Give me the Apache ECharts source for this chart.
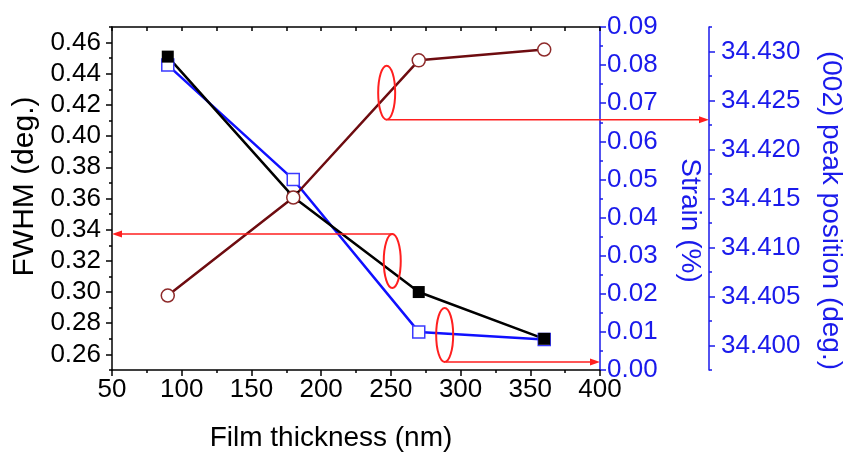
<!DOCTYPE html>
<html>
<head>
<meta charset="utf-8">
<script src="https://cdn.jsdelivr.net/npm/echarts@6/dist/echarts.min.js"></script>
<style>
  html, body { margin: 0; background: #fff; }
  #chart { width: 848px; height: 453px; }
</style>
</head>
<body>
<div id="chart"></div>
<script>
// film thickness (nm)
const thickness = [90, 180, 270, 360];
// FWHM (deg.) - left axis
const fwhm = [0.451, 0.361, 0.300, 0.270];
// strain (%) - first right axis
const strain = [0.080, 0.050, 0.010, 0.008];
// (002) peak position (deg.) - second right axis
const peakPos = [34.4051, 34.4151, 34.4291, 34.4302];

const fwhmTicks = [0.26, 0.28, 0.30, 0.32, 0.34, 0.36, 0.38, 0.40, 0.42, 0.44, 0.46];
const fwhmMinor = [0.25, 0.27, 0.29, 0.31, 0.33, 0.35, 0.37, 0.39, 0.41, 0.43, 0.45, 0.47];
const peakTicks = [34.400, 34.405, 34.410, 34.415, 34.420, 34.425, 34.430];
const peakMinor = [34.3975, 34.4025, 34.4075, 34.4125, 34.4175, 34.4225, 34.4275, 34.4325];

// red guide marks: ellipse centre in data units of the given y axis
const notes = [
  { axis: 3, x: 247, y: 34.4258, from: 'bottom', to: 'peak' },
  { axis: 0, x: 251, y: 0.3199, from: 'top', to: 'left' },
  { axis: 2, x: 288.6, y: 0.0092, from: 'bottom', to: 'right' }
];

const FONT = "'Liberation Sans', Arial, sans-serif";
const BLUE = '#1a1aeb';
const RED = '#ff1f1f';

const chart = echarts.init(document.getElementById('chart'));

const option = {
  animation: false,
  grid: { left: 112, right: 248, top: 27, bottom: 83, outerBoundsMode: 'none', containLabel: false },
  xAxis: [
    {
      type: 'value', position: 'bottom', min: 50, max: 400, interval: 50,
      axisLine: { lineStyle: { color: '#000', width: 1.5 } },
      axisTick: { length: 6, lineStyle: { color: '#000', width: 1.5 } },
      minorTick: { show: true, splitNumber: 2, length: 3, lineStyle: { color: '#000', width: 1.5 } },
      splitLine: { show: false },
      axisLabel: { fontSize: 26, color: '#000', fontFamily: FONT, margin: 7 },
      name: 'Film thickness (nm)', nameLocation: 'middle', nameGap: 54,
      nameTextStyle: { fontSize: 28, color: '#000', fontFamily: FONT, padding: [0, 50, 0, 0] }
    },
    {
      type: 'value', position: 'top', min: 50, max: 400, interval: 25,
      axisLine: { lineStyle: { color: '#000', width: 1.5 } },
      axisTick: { inside: true, length: 4, lineStyle: { color: '#000', width: 1.5 } },
      axisLabel: { show: false },
      splitLine: { show: false }
    }
  ],
  yAxis: [
    {
      type: 'value', position: 'left', min: 0.25, max: 0.47,
      axisLine: { show: true, lineStyle: { color: '#000', width: 1.5 } },
      axisTick: { customValues: fwhmTicks, length: 6, lineStyle: { color: '#000', width: 1.5 } },
      axisLabel: { customValues: fwhmTicks, formatter: v => v.toFixed(2), fontSize: 26, color: '#000', fontFamily: FONT, margin: 11 },
      splitLine: { show: false },
      name: 'FWHM (deg.)', nameLocation: 'middle', nameRotate: 90, nameGap: 71,
      nameTextStyle: { fontSize: 30, color: '#000', fontFamily: FONT, padding: [0, 0, 0, 24] }
    },
    {
      type: 'value', position: 'left', min: 0.25, max: 0.47,
      axisLine: { show: false },
      axisTick: { customValues: fwhmMinor, length: 3, lineStyle: { color: '#000', width: 1.5 } },
      axisLabel: { show: false },
      splitLine: { show: false }
    },
    {
      type: 'value', position: 'right', min: 0, max: 0.09, interval: 0.01,
      axisLine: { show: true, lineStyle: { color: BLUE, width: 1.5 } },
      axisTick: { length: 6, lineStyle: { color: BLUE, width: 1.5 } },
      minorTick: { show: true, splitNumber: 2, length: 3, lineStyle: { color: BLUE, width: 1.5 } },
      axisLabel: { formatter: v => v.toFixed(2), fontSize: 26, color: BLUE, fontFamily: FONT, margin: 7 },
      splitLine: { show: false },
      name: 'Strain (%)', nameLocation: 'middle', nameRotate: -90, nameGap: 76,
      nameTextStyle: { fontSize: 28, color: BLUE, fontFamily: FONT, padding: [0, 0, 0, 44] }
    },
    {
      type: 'value', position: 'right', offset: 109, min: 34.3975, max: 34.4325,
      axisLine: { show: true, lineStyle: { color: BLUE, width: 1.5 } },
      axisTick: { customValues: peakTicks, length: 6, lineStyle: { color: BLUE, width: 1.5 } },
      axisLabel: { customValues: peakTicks, formatter: v => v.toFixed(3), fontSize: 26, color: BLUE, fontFamily: FONT, margin: 12 },
      splitLine: { show: false },
      name: '(002) peak position (deg.)', nameLocation: 'middle', nameRotate: -90, nameGap: 108,
      nameTextStyle: { fontSize: 28, color: BLUE, fontFamily: FONT, padding: [0, 0, 0, 24] }
    },
    {
      type: 'value', position: 'right', offset: 109, min: 34.3975, max: 34.4325,
      axisLine: { show: false },
      axisTick: { customValues: peakMinor, length: 3, lineStyle: { color: BLUE, width: 1.5 } },
      axisLabel: { show: false },
      splitLine: { show: false }
    }
  ],
  series: [
    {
      name: 'Strain', type: 'line', yAxisIndex: 2,
      data: thickness.map((t, i) => [t, strain[i]]),
      symbol: 'rect', symbolSize: 12,
      lineStyle: { color: '#1010ff', width: 2.5 },
      itemStyle: { color: '#fff', borderColor: '#3a3aff', borderWidth: 1.5 }
    },
    {
      name: 'FWHM', type: 'line', yAxisIndex: 0,
      data: thickness.map((t, i) => [t, fwhm[i]]),
      symbol: 'rect', symbolSize: 12,
      lineStyle: { color: '#000', width: 2.5 },
      itemStyle: { color: '#000', borderColor: '#000', borderWidth: 0 }
    },
    {
      name: 'Peak position', type: 'line', yAxisIndex: 3,
      data: thickness.map((t, i) => [t, peakPos[i]]),
      symbol: 'circle', symbolSize: 13,
      lineStyle: { color: '#6e0c10', width: 2.5 },
      itemStyle: { color: '#fff', borderColor: '#8e2a2a', borderWidth: 1.5 }
    }
  ]
};

chart.setOption(option);

// red ellipses and arrows pointing each curve to its axis
function px(axis, x, y) {
  return chart.convertToPixel({ xAxisIndex: 0, yAxisIndex: axis }, [x, y]);
}
const leftX = px(0, 50, 0.3)[0];
const rightX = px(0, 400, 0.3)[0];
const ends = { left: leftX, right: rightX, peak: rightX + 109 };
const RX = 8.5, RY = 27;
const els = [];
notes.forEach(n => {
  const c = px(n.axis, n.x, n.y);
  els.push({
    type: 'ellipse', z: 100,
    shape: { cx: c[0], cy: c[1], rx: RX, ry: RY },
    style: { fill: 'transparent', stroke: RED, lineWidth: 2 }
  });
  const y0 = n.from === 'top' ? c[1] - RY : c[1] + RY;
  const x0 = c[0] + 1;
  const x1 = ends[n.to];
  const dir = x1 > x0 ? 1 : -1;
  els.push({
    type: 'line', z: 100,
    shape: { x1: x0, y1: y0, x2: x1 - dir * 6, y2: y0 },
    style: { stroke: RED, lineWidth: 1.5 }
  });
  els.push({
    type: 'polygon', z: 100,
    shape: { points: [[x1, y0], [x1 - dir * 10, y0 - 3.5], [x1 - dir * 10, y0 + 3.5]] },
    style: { fill: RED }
  });
});
chart.setOption({ graphic: els });
</script>
</body>
</html>
